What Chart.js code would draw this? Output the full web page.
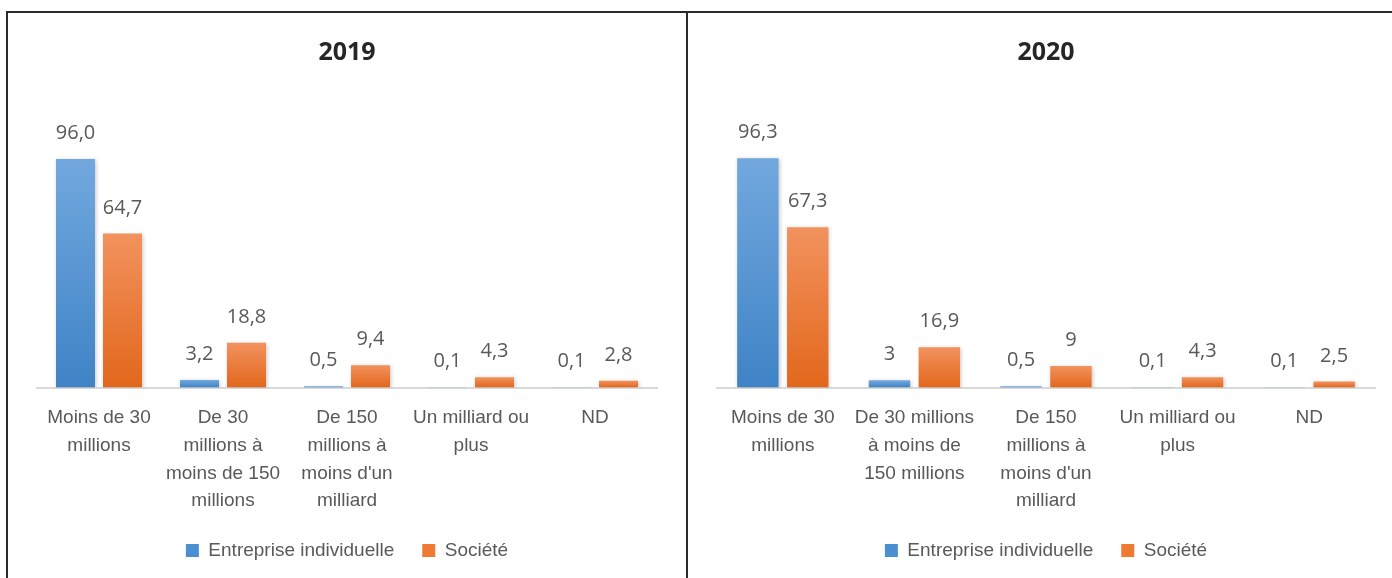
<!DOCTYPE html>
<html lang="fr">
<head>
<meta charset="utf-8">
<script src="https://cdn.jsdelivr.net/npm/chart.js@4/dist/chart.umd.min.js"></script>
<style>
  html, body { margin: 0; padding: 0; background: #fff; overflow: hidden; }
  body { width: 1392px; height: 578px; position: relative; }
  .ligne { position: absolute; background: #2b2b2b; }
  .cadre { position: absolute; }
</style>
</head>
<body>
<!-- traits du tableau -->
<div class="ligne" style="left:6px; top:11px; width:1400px; height:2px;"></div>
<div class="ligne" style="left:6px; top:11px; width:2px; height:580px;"></div>
<div class="ligne" style="left:686px; top:11px; width:2px; height:580px;"></div>

<div class="cadre" style="left:8px; top:13px; width:678px; height:565px;">
  <canvas id="graph2019"></canvas>
</div>
<div class="cadre" style="left:688px; top:13px; width:716px; height:565px;">
  <canvas id="graph2020"></canvas>
</div>

<script>
// ===== DONNÉES =====
var categories2019 = [
    ["Moins de 30", "millions"],
    ["De 30", "millions à", "moins de 150", "millions"],
    ["De 150", "millions à", "moins d'un", "milliard"],
    ["Un milliard ou", "plus"],
    ["ND"]
];
var categories2020 = [
    ["Moins de 30", "millions"],
    ["De 30 millions", "à moins de", "150 millions"],
    ["De 150", "millions à", "moins d'un", "milliard"],
    ["Un milliard ou", "plus"],
    ["ND"]
];
var individuelle2019 = [96.0, 3.2, 0.5, 0.1, 0.1];
var societe2019      = [64.7, 18.8, 9.4, 4.3, 2.8];
var individuelle2020 = [96.3, 3, 0.5, 0.1, 0.1];
var societe2020      = [67.3, 16.9, 9, 4.3, 2.5];

var POLICE_AXE = "'Liberation Sans Narrow', 'Arial Narrow', 'Liberation Sans', sans-serif";
var GRIS = '#595959';

// Format des étiquettes : une décimale pour 2019, valeur brute pour 2020
var formats = {
    graph2019: function (v) { return v.toFixed(1).replace('.', ','); },
    graph2020: function (v) { return String(v).replace('.', ','); }
};

// Dégradé vertical propre à chaque barre (clair en haut, foncé en bas)
function degrade(haut, bas) {
    return function (ctx) {
        var chart = ctx.chart;
        if (!chart.chartArea || ctx.parsed === undefined) return bas;
        var y = chart.scales.y;
        var y0 = y.getPixelForValue(0);
        var y1 = y.getPixelForValue(ctx.parsed.y);
        if (Math.abs(y0 - y1) < 1) y1 = y0 - 1;
        var g = chart.ctx.createLinearGradient(0, y1, 0, y0);
        g.addColorStop(0, haut);
        g.addColorStop(1, bas);
        return g;
    };
}

// Ombre légère sous les barres
var ombre = {
    id: 'ombre',
    beforeDatasetsDraw: function (chart) {
        var c = chart.ctx;
        c.save();
        c.shadowColor = 'rgba(0,0,0,0.22)';
        c.shadowBlur = 4;
        c.shadowOffsetX = 1;
        c.shadowOffsetY = 1;
    },
    afterDatasetsDraw: function (chart) {
        chart.ctx.restore();
    }
};

// Étiquettes de valeurs au-dessus des barres
var etiquettes = {
    id: 'etiquettes',
    afterDraw: function (chart) {
        var c = chart.ctx;
        var format = formats[chart.canvas.id];
        c.save();
        c.font = "20px 'Open Sans', sans-serif";
        c.fillStyle = GRIS;
        c.textAlign = 'center';
        c.textBaseline = 'alphabetic';
        chart.data.datasets.forEach(function (ds, i) {
            chart.getDatasetMeta(i).data.forEach(function (bar, j) {
                c.fillText(format(ds.data[j]), bar.x, bar.y - 20);
            });
        });
        c.restore();
    }
};

function creerGraphique(id, titre, labels, indiv, soc) {
    return new Chart(document.getElementById(id), {
        type: 'bar',
        data: {
            labels: labels,
            datasets: [
                {
                    label: 'Entreprise individuelle',
                    data: indiv,
                    backgroundColor: degrade('#72a8de', '#3f83c6')
                },
                {
                    label: 'Société',
                    data: soc,
                    backgroundColor: degrade('#f2925e', '#e2671c')
                }
            ]
        },
        options: {
            responsive: true,
            maintainAspectRatio: false,
            animation: false,
            categoryPercentage: 0.758,
            barPercentage: 0.83,
            layout: { padding: { left: 29, right: 29, top: 0, bottom: 8 } },
            scales: {
                x: {
                    grid: { display: false },
                    border: { display: true, color: '#d9d9d9', width: 2 },
                    ticks: {
                        color: GRIS,
                        font: { family: POLICE_AXE, size: 19, lineHeight: 1.47 },
                        padding: 8,
                        maxRotation: 0,
                        autoSkip: false
                    },
                    // hauteur fixe de l'axe pour garder la zone de tracé
                    afterFit: function (scale) { scale.height = 125.5; }
                },
                y: { display: false, min: 0, max: 100 }
            },
            plugins: {
                title: {
                    display: true,
                    text: titre,
                    color: '#262626',
                    font: { family: "'Open Sans', sans-serif", size: 25, weight: 'bold' },
                    padding: { top: 25, bottom: 81.5 }
                },
                legend: {
                    position: 'bottom',
                    labels: {
                        color: GRIS,
                        font: { family: POLICE_AXE, size: 19 },
                        boxWidth: 13,
                        boxHeight: 13,
                        padding: 28,
                        generateLabels: function (chart) {
                            var couleurs = ['#4a8fd2', '#ef7a34'];
                            return chart.data.datasets.map(function (ds, i) {
                                return {
                                    text: ds.label,
                                    fillStyle: couleurs[i],
                                    strokeStyle: couleurs[i],
                                    lineWidth: 0,
                                    fontColor: GRIS,
                                    datasetIndex: i
                                };
                            });
                        }
                    }
                },
                tooltip: { enabled: false }
            }
        },
        plugins: [ombre, etiquettes]
    });
}

creerGraphique('graph2019', '2019', categories2019, individuelle2019, societe2019);
creerGraphique('graph2020', '2020', categories2020, individuelle2020, societe2020);
</script>
</body>
</html>
